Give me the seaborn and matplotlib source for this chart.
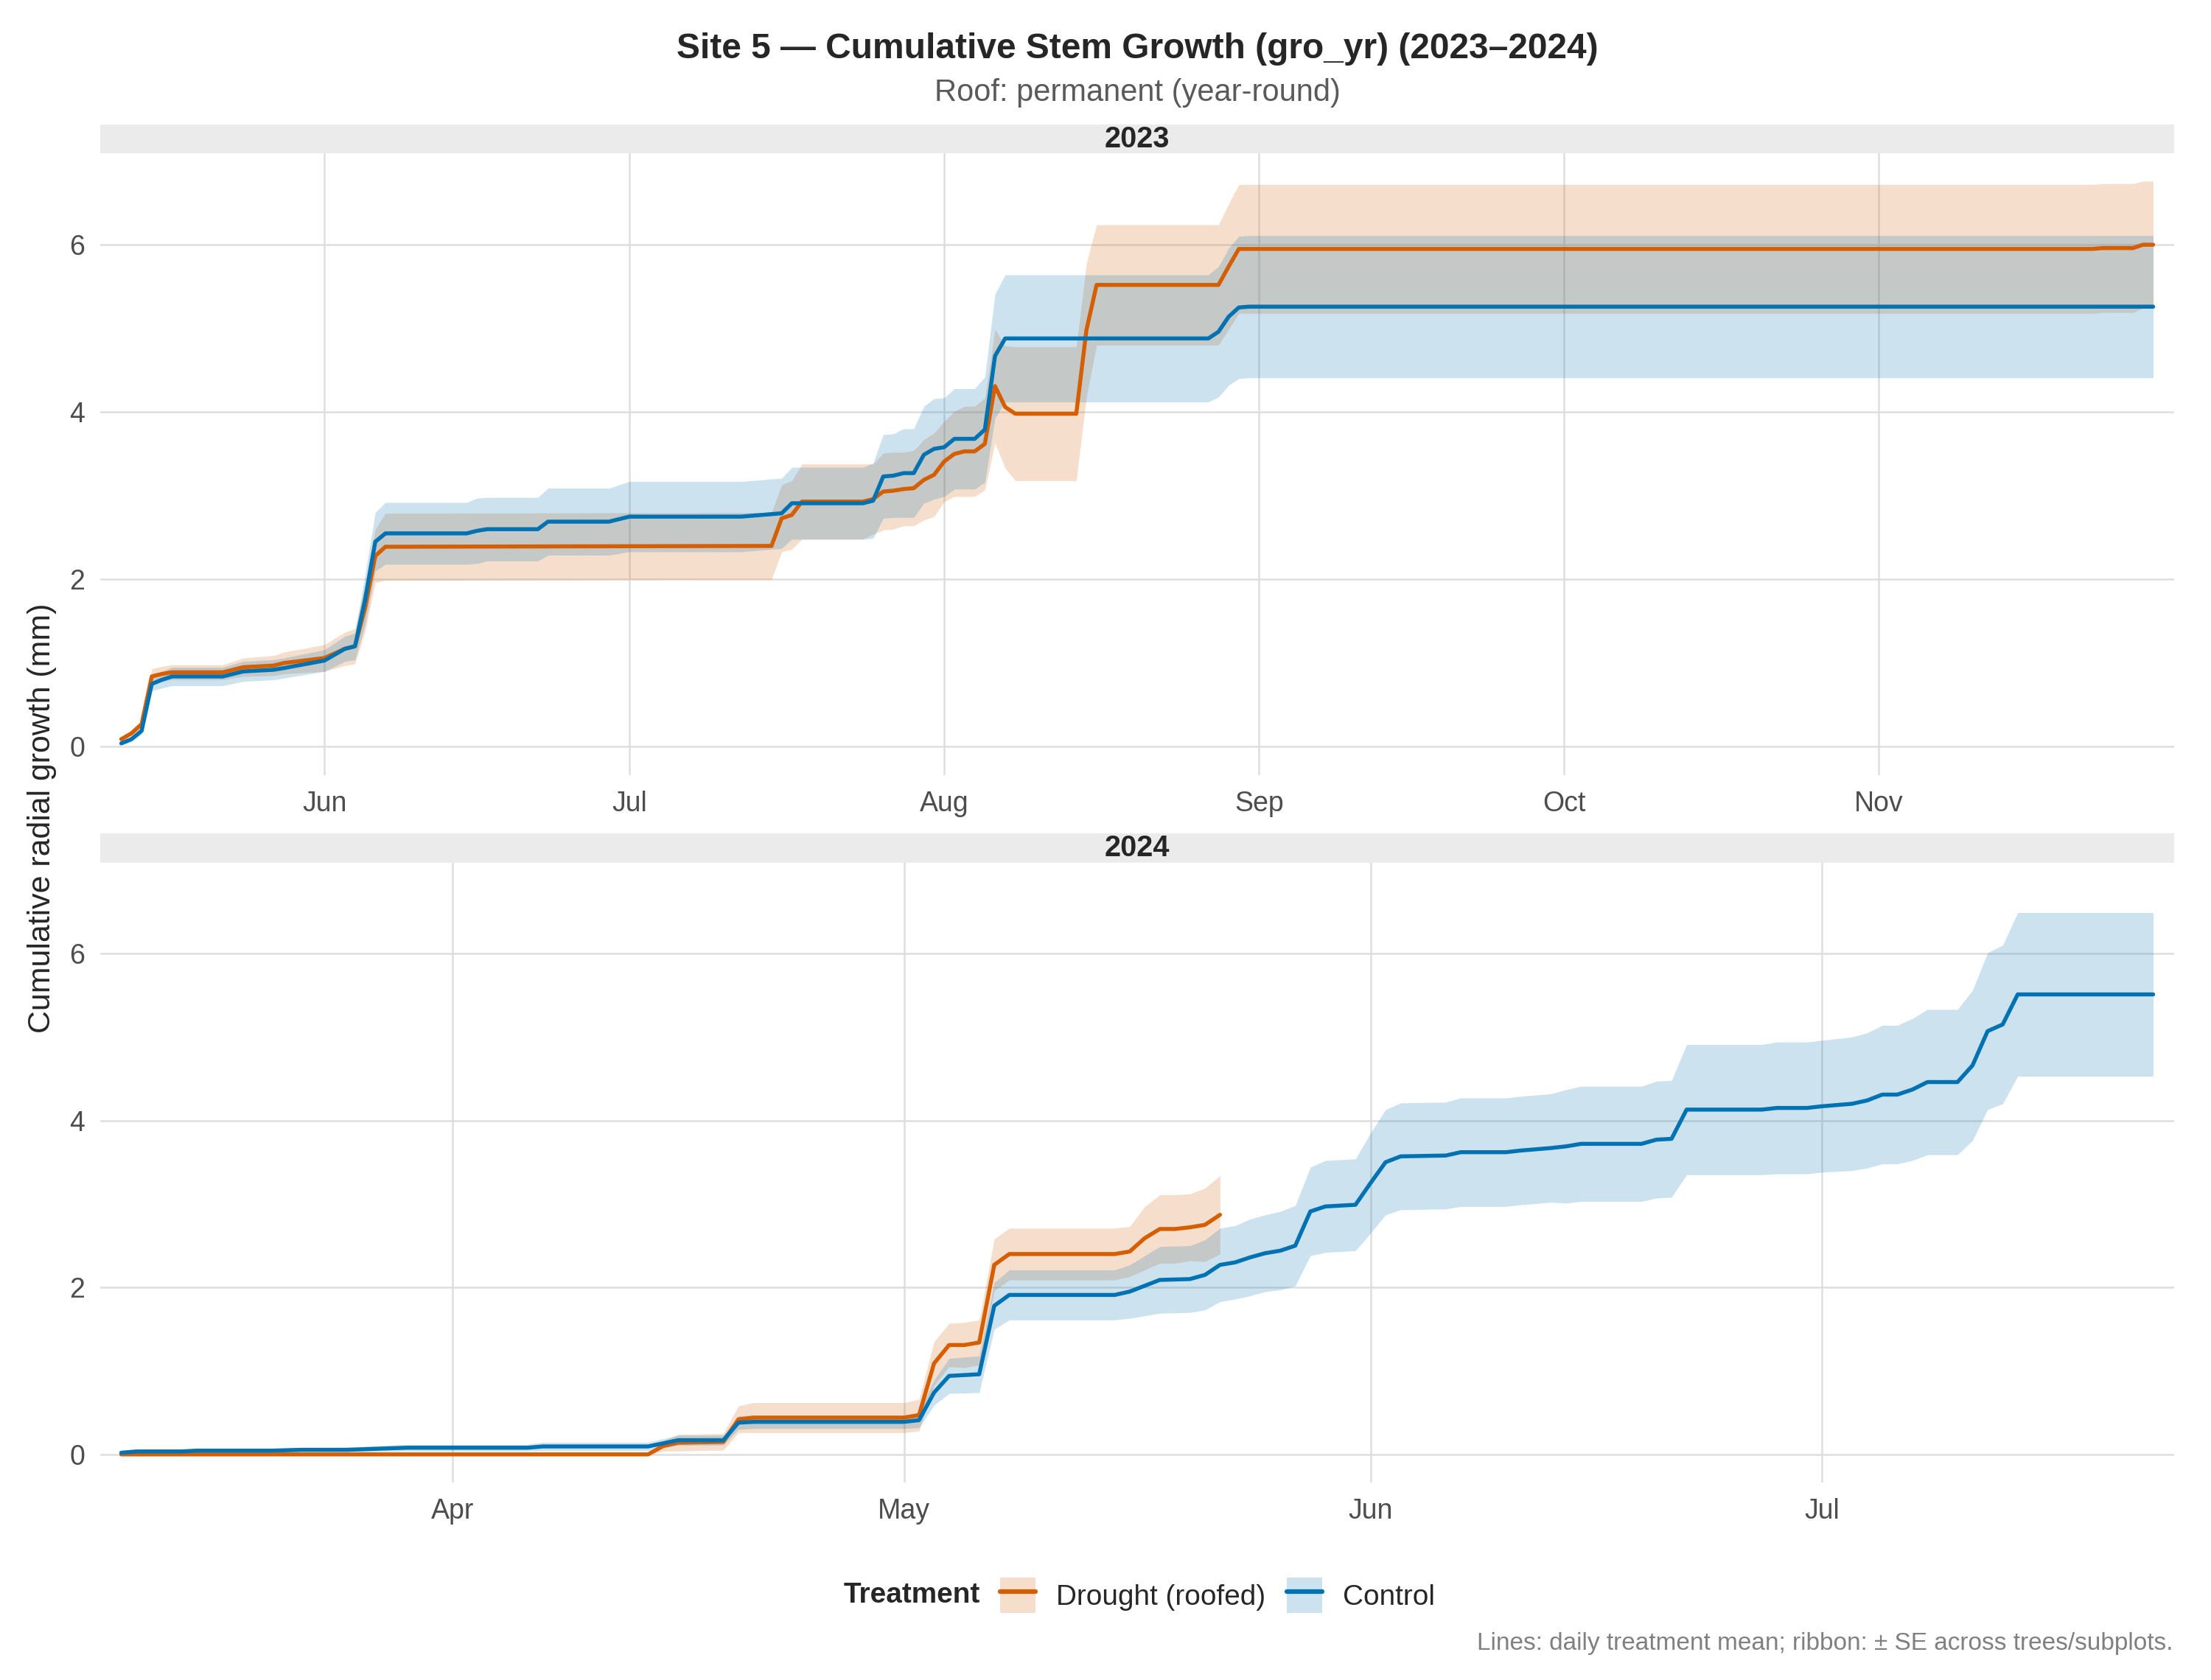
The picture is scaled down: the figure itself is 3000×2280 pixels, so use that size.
import pandas as pd
import seaborn as sns
import matplotlib.pyplot as plt
import matplotlib.dates as mdates
from matplotlib.patches import Patch, Rectangle
from matplotlib.lines import Line2D

sns.set_theme(style="white")
plt.rcParams['font.family'] = ['Liberation Sans', 'DejaVu Sans']

# ---- data (breakpoints of the daily mean, +- SE) ----
# 2023, drought (roofed)
d23_dates = ['2023-05-12', '2023-05-13', '2023-05-14', '2023-05-15', '2023-05-16', '2023-05-17',
             '2023-05-22', '2023-05-24', '2023-05-27', '2023-05-28', '2023-06-01', '2023-06-03',
             '2023-06-04', '2023-06-05', '2023-06-06', '2023-06-07', '2023-07-15', '2023-07-16',
             '2023-07-17', '2023-07-18', '2023-07-24', '2023-07-25', '2023-07-26', '2023-07-27',
             '2023-07-28', '2023-07-29', '2023-07-30', '2023-07-31', '2023-08-01', '2023-08-02',
             '2023-08-03', '2023-08-04', '2023-08-05', '2023-08-06', '2023-08-07', '2023-08-08',
             '2023-08-14', '2023-08-15', '2023-08-16', '2023-08-28', '2023-08-29', '2023-08-30',
             '2023-11-22', '2023-11-23', '2023-11-26', '2023-11-27', '2023-11-28']
d23_mean = [0.09, 0.16, 0.27, 0.84, 0.87, 0.89,
            0.89, 0.95, 0.97, 1.00, 1.06, 1.17,
            1.20, 1.66, 2.28, 2.39, 2.40, 2.73,
            2.77, 2.93, 2.93, 2.96, 3.05, 3.06,
            3.08, 3.09, 3.19, 3.25, 3.41, 3.50,
            3.53, 3.53, 3.62, 4.31, 4.06, 3.98,
            3.98, 4.98, 5.52, 5.52, 5.74, 5.95,
            5.95, 5.96, 5.96, 6.00, 6.00]
d23_se = [0.02, 0.03, 0.04, 0.09, 0.09, 0.09,
          0.09, 0.11, 0.12, 0.13, 0.16, 0.20,
          0.21, 0.28, 0.32, 0.40, 0.40, 0.40,
          0.41, 0.45, 0.45, 0.42, 0.46, 0.46,
          0.44, 0.45, 0.48, 0.50, 0.48, 0.51,
          0.54, 0.54, 0.55, 0.68, 0.73, 0.80,
          0.80, 0.80, 0.72, 0.72, 0.75, 0.77,
          0.77, 0.77, 0.77, 0.76, 0.76]

# 2023, control
c23_dates = ['2023-05-12', '2023-05-13', '2023-05-14', '2023-05-15', '2023-05-16', '2023-05-17',
             '2023-05-22', '2023-05-24', '2023-05-27', '2023-05-28', '2023-06-01', '2023-06-03',
             '2023-06-04', '2023-06-05', '2023-06-06', '2023-06-07', '2023-06-15', '2023-06-16',
             '2023-06-17', '2023-06-22', '2023-06-23', '2023-06-29', '2023-07-01', '2023-07-12',
             '2023-07-16', '2023-07-17', '2023-07-24', '2023-07-25', '2023-07-26', '2023-07-27',
             '2023-07-28', '2023-07-29', '2023-07-30', '2023-07-31', '2023-08-01', '2023-08-02',
             '2023-08-04', '2023-08-05', '2023-08-06', '2023-08-07', '2023-08-27', '2023-08-28',
             '2023-08-29', '2023-08-30', '2023-08-31', '2023-11-28']
c23_mean = [0.04, 0.09, 0.19, 0.75, 0.80, 0.84,
            0.84, 0.90, 0.92, 0.94, 1.03, 1.17,
            1.20, 1.76, 2.45, 2.55, 2.55, 2.58,
            2.60, 2.60, 2.69, 2.69, 2.75, 2.75,
            2.79, 2.91, 2.91, 2.94, 3.23, 3.24,
            3.27, 3.27, 3.49, 3.56, 3.58, 3.68,
            3.68, 3.79, 4.67, 4.88, 4.88, 4.96,
            5.14, 5.25, 5.26, 5.26]
c23_se = [0.02, 0.03, 0.04, 0.08, 0.10, 0.11,
          0.11, 0.12, 0.12, 0.12, 0.13, 0.15,
          0.16, 0.30, 0.35, 0.37, 0.37, 0.39,
          0.38, 0.38, 0.40, 0.40, 0.42, 0.42,
          0.42, 0.43, 0.43, 0.45, 0.50, 0.50,
          0.53, 0.53, 0.58, 0.60, 0.59, 0.60,
          0.60, 0.63, 0.74, 0.76, 0.76, 0.78,
          0.82, 0.85, 0.85, 0.85]

# 2024, drought (roofed)
d24_dates = ['2024-03-10', '2024-04-14', '2024-04-15', '2024-04-16', '2024-04-19', '2024-04-20',
             '2024-04-21', '2024-05-01', '2024-05-02', '2024-05-03', '2024-05-04', '2024-05-05',
             '2024-05-06', '2024-05-07', '2024-05-08', '2024-05-15', '2024-05-16', '2024-05-17',
             '2024-05-18', '2024-05-19', '2024-05-20', '2024-05-21', '2024-05-22']
d24_mean = [0.00, 0.00, 0.10, 0.14, 0.15, 0.42,
            0.44, 0.44, 0.47, 1.09, 1.31, 1.31,
            1.34, 2.27, 2.40, 2.40, 2.43, 2.59,
            2.70, 2.70, 2.72, 2.75, 2.87]
d24_se = [0.005, 0.01, 0.06, 0.10, 0.10, 0.16,
          0.18, 0.18, 0.19, 0.26, 0.26, 0.27,
          0.27, 0.31, 0.31, 0.31, 0.30, 0.38,
          0.41, 0.41, 0.40, 0.44, 0.47]

# 2024, control
c24_dates = ['2024-03-10', '2024-03-11', '2024-03-14', '2024-03-15', '2024-03-20', '2024-03-22',
             '2024-03-25', '2024-03-29', '2024-04-06', '2024-04-07', '2024-04-14', '2024-04-16',
             '2024-04-19', '2024-04-20', '2024-04-21', '2024-05-01', '2024-05-02', '2024-05-03',
             '2024-05-04', '2024-05-06', '2024-05-07', '2024-05-08', '2024-05-15', '2024-05-16',
             '2024-05-17', '2024-05-18', '2024-05-20', '2024-05-21', '2024-05-22', '2024-05-23',
             '2024-05-24', '2024-05-25', '2024-05-26', '2024-05-27', '2024-05-28', '2024-05-29',
             '2024-05-31', '2024-06-01', '2024-06-02', '2024-06-03', '2024-06-06', '2024-06-07',
             '2024-06-10', '2024-06-11', '2024-06-13', '2024-06-14', '2024-06-15', '2024-06-19',
             '2024-06-20', '2024-06-21', '2024-06-22', '2024-06-27', '2024-06-28', '2024-06-30',
             '2024-07-01', '2024-07-03', '2024-07-04', '2024-07-05', '2024-07-06', '2024-07-07',
             '2024-07-08', '2024-07-10', '2024-07-11', '2024-07-12', '2024-07-13', '2024-07-14',
             '2024-07-23']
c24_mean = [0.02, 0.035, 0.035, 0.045, 0.045, 0.055,
            0.055, 0.08, 0.08, 0.095, 0.095, 0.17,
            0.17, 0.38, 0.39, 0.39, 0.41, 0.74,
            0.94, 0.96, 1.78, 1.91, 1.91, 1.95,
            2.02, 2.09, 2.10, 2.15, 2.27, 2.30,
            2.36, 2.41, 2.44, 2.50, 2.91, 2.97,
            2.99, 3.25, 3.50, 3.57, 3.58, 3.62,
            3.62, 3.64, 3.67, 3.69, 3.72, 3.72,
            3.77, 3.78, 4.13, 4.13, 4.15, 4.15,
            4.17, 4.20, 4.24, 4.31, 4.31, 4.37,
            4.46, 4.46, 4.66, 5.07, 5.15, 5.51,
            5.51]
c24_se = [0.01, 0.01, 0.015, 0.02, 0.02, 0.025,
          0.03, 0.04, 0.04, 0.05, 0.05, 0.06,
          0.06, 0.08, 0.08, 0.08, 0.09, 0.15,
          0.21, 0.22, 0.28, 0.30, 0.30, 0.32,
          0.36, 0.40, 0.40, 0.42, 0.44, 0.44,
          0.46, 0.46, 0.47, 0.48, 0.53, 0.55,
          0.55, 0.60, 0.63, 0.64, 0.64, 0.65,
          0.65, 0.65, 0.65, 0.68, 0.69, 0.69,
          0.70, 0.70, 0.78, 0.78, 0.79, 0.79,
          0.79, 0.80, 0.81, 0.83, 0.83, 0.85,
          0.87, 0.87, 0.90, 0.94, 0.95, 0.98,
          0.98]

treatments = ['Drought (roofed)', 'Control']
colors = {'Drought (roofed)': '#D55E00', 'Control': '#0072B2'}
years = ['2023', '2024']
x_ranges = {'2023': ('2023-05-12', '2023-11-28'), '2024': ('2024-03-10', '2024-07-23')}


def make_frame(year, treatment, dates, mean, se):
    df = pd.DataFrame({'date': pd.to_datetime(dates), 'mean': mean, 'se': se})
    df['lo'] = df['mean'] - df['se']
    df['hi'] = df['mean'] + df['se']
    df['year'] = year
    df['Treatment'] = treatment
    return df


df = pd.concat([
    make_frame('2023', 'Drought (roofed)', d23_dates, d23_mean, d23_se),
    make_frame('2023', 'Control', c23_dates, c23_mean, c23_se),
    make_frame('2024', 'Drought (roofed)', d24_dates, d24_mean, d24_se),
    make_frame('2024', 'Control', c24_dates, c24_mean, c24_se),
], ignore_index=True)

fig = plt.figure(figsize=(10, 7.6), dpi=300)

left, width = 0.0453, 0.9381
panels = {'2023': [left, 0.5386, width, 0.3700], '2024': [left, 0.1174, width, 0.3692]}
strip_h = 0.0172

for yr in years:
    ax = fig.add_axes(panels[yr])
    sub = df[df['year'] == yr]

    # ribbons first, lines on top (control drawn last)
    for tr in treatments:
        s = sub[sub['Treatment'] == tr]
        ax.fill_between(s['date'], s['lo'], s['hi'], color=colors[tr], alpha=0.2, linewidth=0)

    sns.lineplot(data=sub, x='date', y='mean', hue='Treatment', hue_order=treatments,
                 palette=colors, estimator=None, linewidth=1.3, legend=False, ax=ax)

    x0, x1 = pd.to_datetime(x_ranges[yr][0]), pd.to_datetime(x_ranges[yr][1])
    pad = (x1 - x0) * 0.0104
    ax.set_xlim(x0 - pad, x1 + pad)
    ax.set_ylim(-0.34, 7.09)
    ax.set_yticks([0, 2, 4, 6])
    ax.xaxis.set_major_locator(mdates.MonthLocator())
    ax.xaxis.set_major_formatter(mdates.DateFormatter('%b'))

    ax.set_xlabel('')
    ax.set_ylabel('')
    for sp in ax.spines.values():
        sp.set_visible(False)
    ax.grid(True, color='#DEDEDE', linewidth=0.6)
    ax.set_axisbelow(True)
    ax.tick_params(axis='both', length=3.5, width=0.8, color='#9A9A9A',
                   labelsize=9, labelcolor='#4D4D4D', pad=1.5)

    # facet strip
    pos = panels[yr]
    top = pos[1] + pos[3]
    fig.patches.append(Rectangle((pos[0], top), pos[2], strip_h, transform=fig.transFigure,
                                 facecolor='#EBEBEB', edgecolor='none'))
    fig.text(pos[0] + pos[2] / 2, top + strip_h / 2, yr, ha='center', va='center',
             fontsize=9.5, fontweight='bold')

fig.text(0.5144, 0.971, 'Site 5 \u2014 Cumulative Stem Growth (gro_yr) (2023\u20132024)',
         ha='center', va='center', fontsize=11.5, fontweight='bold')
fig.text(0.5144, 0.9446, 'Roof: permanent (year-round)', ha='center', va='center',
         fontsize=10, color='#5A5A5A')
fig.text(0.0191, 0.513, 'Cumulative radial growth (mm)', rotation=90, ha='center', va='center',
         fontsize=10.3)

# legend: bold title on the left, square keys with ribbon fill + line
fig.text(0.3814, 0.0503, 'Treatment', ha='left', va='center', fontsize=9.3, fontweight='bold')
handles = [(Patch(facecolor=colors[t], alpha=0.2, edgecolor='none'),
            Line2D([], [], color=colors[t], linewidth=1.5)) for t in treatments]
fig.legend(handles, treatments, loc='center left', bbox_to_anchor=(0.4523, 0.0503), ncol=2,
           frameon=False, fontsize=9.3, handlelength=1.24, handleheight=1.53,
           handletextpad=0.72, columnspacing=0.75, borderpad=0, borderaxespad=0)

fig.text(0.9828, 0.0218, 'Lines: daily treatment mean; ribbon: \u00b1 SE across trees/subplots.',
         ha='right', va='center', fontsize=8, color='#808080')

fig.savefig('out.png', dpi=300, facecolor='white')
